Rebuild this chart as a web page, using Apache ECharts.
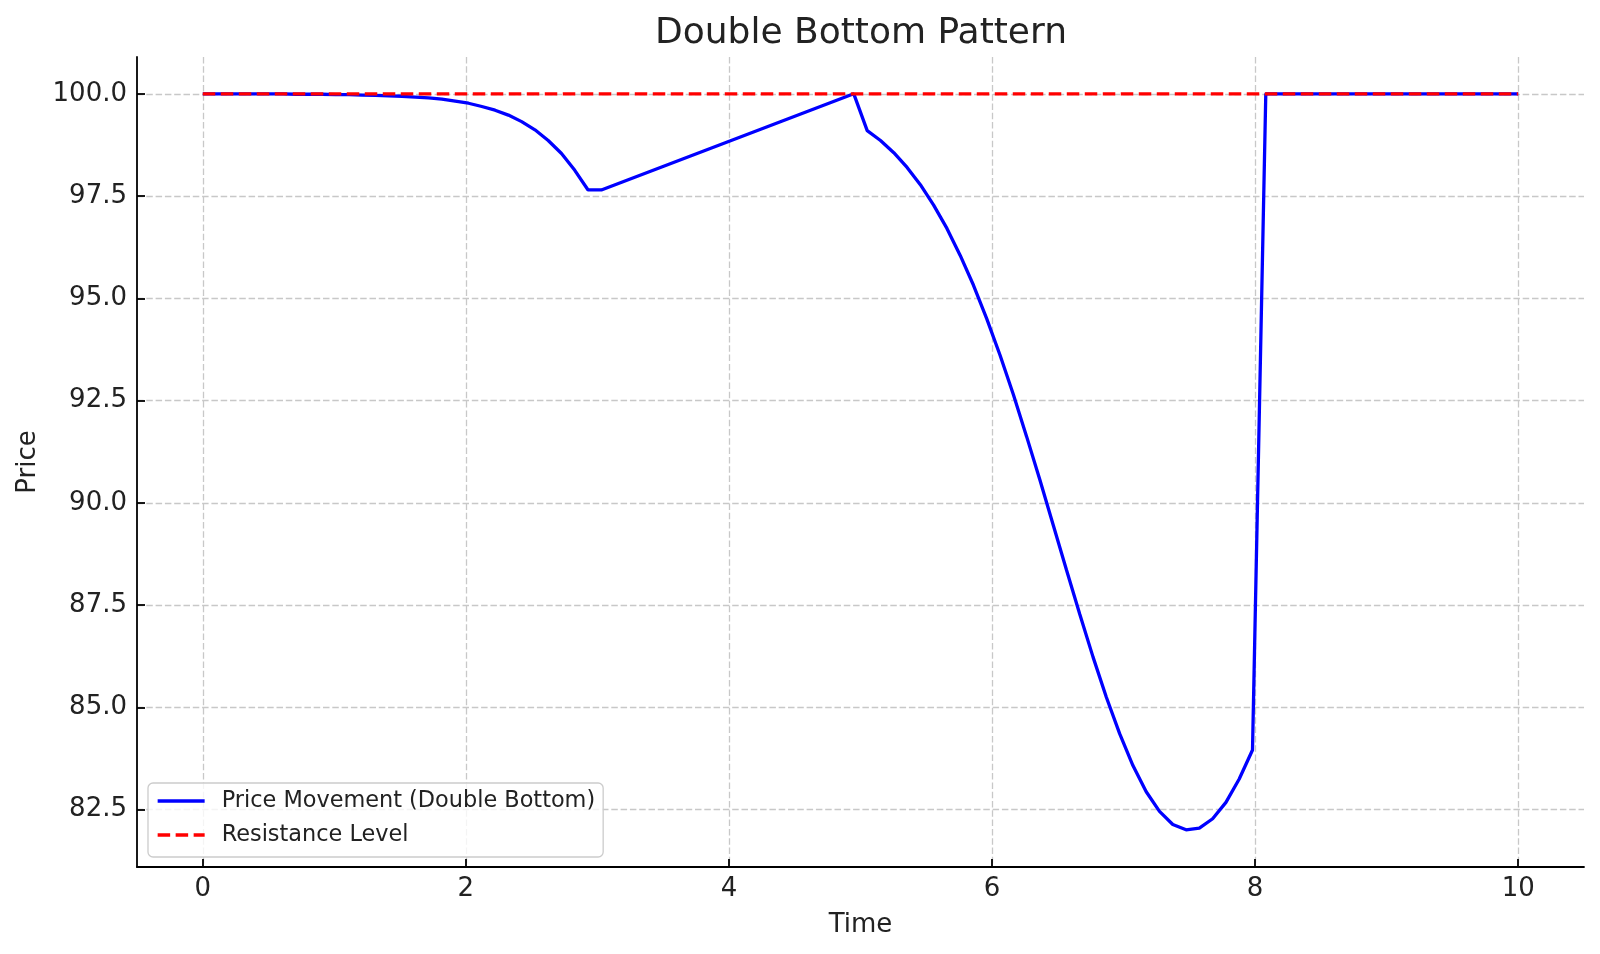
<!DOCTYPE html>
<html>
<head>
<meta charset="utf-8">
<title>Double Bottom Pattern</title>
<script src="https://cdn.jsdelivr.net/npm/echarts@6/dist/echarts.min.js"></script>
<style>
  html, body { margin: 0; padding: 0; background: #fff; }
  #chart { width: 1600px; height: 954px; }
</style>
</head>
<body>
<div id="chart"></div>
<script>
// time samples (straight runs only keep their ends)
const timeValues = [
  0, 0.101, 0.202, 0.303, 0.404, 0.505, 0.606, 0.707, 0.808, 0.909,
  1.010, 1.111, 1.212, 1.313, 1.414, 1.515, 1.616, 1.717, 1.818, 1.919,
  2.020, 2.121, 2.222, 2.323, 2.424, 2.525, 2.626, 2.727, 2.828, 2.929,
  3.030, 4.949,
  5.051, 5.152, 5.253, 5.354, 5.455, 5.556, 5.657, 5.758, 5.859, 5.960,
  6.061, 6.162, 6.263, 6.364, 6.465, 6.566, 6.667, 6.768, 6.869, 6.970,
  7.071, 7.172, 7.273, 7.374, 7.475, 7.576, 7.677, 7.778, 7.879, 7.980,
  8.081, 10
];

const priceValues = [
  100.00, 100.00, 100.00, 100.00, 100.00, 100.00, 100.00, 99.99, 99.99, 99.99,
  99.98, 99.98, 99.97, 99.96, 99.95, 99.94, 99.92, 99.90, 99.87, 99.82,
  99.77, 99.69, 99.60, 99.48, 99.32, 99.12, 98.86, 98.54, 98.13, 97.65,
  97.65, 100.00,
  99.10, 98.86, 98.56, 98.20, 97.78, 97.28, 96.71, 96.05, 95.32, 94.50,
  93.61, 92.65, 91.62, 90.56, 89.46, 88.36, 87.28, 86.23, 85.25, 84.36,
  83.58, 82.94, 82.46, 82.14, 82.01, 82.05, 82.28, 82.68, 83.25, 83.96,
  100.00, 100.00
];

const resistanceTime = [0, 10];
const resistanceValues = [100, 100];

const xTicks = [0, 2, 4, 6, 8, 10];
const yTicks = [82.5, 85.0, 87.5, 90.0, 92.5, 95.0, 97.5, 100.0];

const FONT = 'DejaVu Sans';
const INK = '#222222';

const zip = (xs, ys) => xs.map((x, i) => [x, ys[i]]);

const chart = echarts.init(document.getElementById('chart'), null, {renderer: 'canvas'});

const gridLine = {
  show: true,
  lineStyle: {color: '#c8c8c8', width: 1.3, type: [6.5, 2.8]},
};

const options = {
  animation: false,
  backgroundColor: '#ffffff',
  title: {
    text: 'Double Bottom Pattern',
    left: 861,
    top: 16,
    padding: 0,
    textAlign: 'center',
    textStyle: {fontFamily: FONT, fontSize: 36, fontWeight: 'normal', color: INK},
  },
  legend: {
    orient: 'vertical',
    left: 148,
    top: 783,
    padding: [6, 8, 10, 8],
    itemWidth: 47,
    itemHeight: 14,
    itemGap: 10,
    backgroundColor: 'rgba(255,255,255,0.8)',
    borderColor: '#cccccc',
    borderWidth: 1.3,
    borderRadius: 5,
    // the line icon only, no marker dot
    itemStyle: {color: 'rgba(0,0,0,0)', borderWidth: 0, opacity: 0},
    lineStyle: {width: 3.3},
    textStyle: {fontFamily: FONT, fontSize: 22.4, color: INK, lineHeight: 24, padding: [0, 0, 0, 12]},
    data: ['Price Movement (Double Bottom)', 'Resistance Level'],
  },
  grid: {left: 137, right: 16, top: 57, bottom: 87, containLabel: false},
  xAxis: {
    type: 'value',
    min: -0.5,
    max: 10.5,
    name: 'Time',
    nameLocation: 'middle',
    nameGap: 45,
    nameTextStyle: {fontFamily: FONT, fontSize: 26, color: INK},
    axisLine: {show: true, onZero: false, lineStyle: {color: '#000', width: 1.8}},
    axisTick: {show: true, inside: true, length: 8, customValues: xTicks, lineStyle: {color: '#000', width: 1.8}},
    axisLabel: {
      customValues: xTicks,
      margin: 9,
      fontFamily: FONT,
      fontSize: 26,
      color: INK,
      formatter: (v) => String(v),
    },
    splitLine: gridLine,
  },
  yAxis: {
    type: 'value',
    min: 81.1,
    max: 100.9,
    name: 'Price',
    nameLocation: 'middle',
    nameGap: 87,
    nameTextStyle: {fontFamily: FONT, fontSize: 26, color: INK},
    axisLine: {show: true, onZero: false, lineStyle: {color: '#000', width: 1.8}},
    axisTick: {show: true, inside: true, length: 8, customValues: yTicks, lineStyle: {color: '#000', width: 1.8}},
    axisLabel: {
      customValues: yTicks,
      margin: 10,
      fontFamily: FONT,
      fontSize: 26,
      color: INK,
      formatter: (v) => v.toFixed(1),
    },
    splitLine: gridLine,
  },
  series: [
    {
      name: 'Price Movement (Double Bottom)',
      type: 'line',
      symbol: 'none',
      z: 2,
      lineStyle: {color: '#0000ff', width: 3.3},
      itemStyle: {color: '#0000ff'},
      data: zip(timeValues, priceValues),
    },
    {
      name: 'Resistance Level',
      type: 'line',
      symbol: 'none',
      z: 3,
      lineStyle: {color: '#ff0000', width: 3.3, type: [12.5, 5.5]},
      itemStyle: {color: '#ff0000'},
      data: zip(resistanceTime, resistanceValues),
    },
  ],
};

chart.setOption(options);
window.addEventListener('resize', chart.resize);
</script>
</body>
</html>
